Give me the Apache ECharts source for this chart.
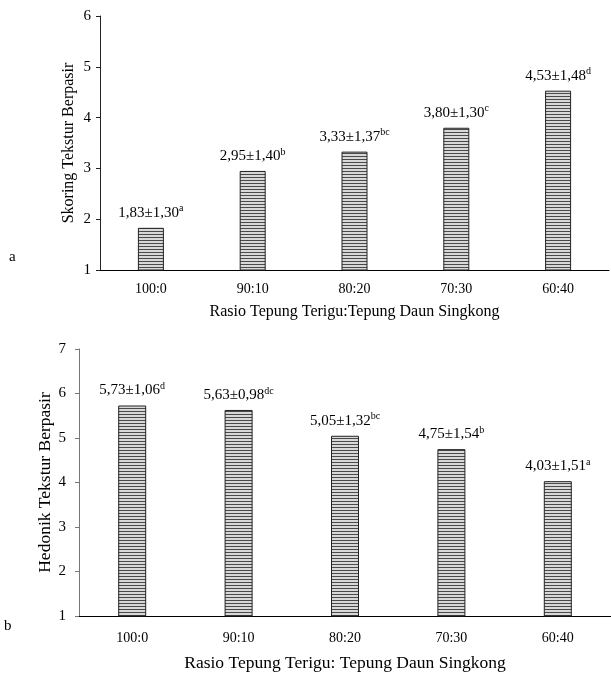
<!DOCTYPE html>
<html><head><meta charset="utf-8">
<script src="https://cdn.jsdelivr.net/npm/echarts@6/dist/echarts.min.js"></script>
<style>html,body{margin:0;padding:0;background:#fff}#c{width:611px;height:673px}</style>
</head><body><div id="c"></div>
<script>
var categories = ['100:0','90:10','80:20','70:30','60:40'];
var skorValues = [1.83, 2.95, 3.33, 3.80, 4.53];
var skorSD = ['1,30','1,40','1,37','1,30','1,48'];
var skorLetters = ['a','b','bc','c','d'];
var hedValues = [5.73, 5.63, 5.05, 4.75, 4.03];
var hedSD = ['1,06','0,98','1,32','1,54','1,51'];
var hedLetters = ['d','dc','bc','b','a'];

var FONT = '"Liberation Serif","Times New Roman",serif';
var pc = document.createElement('canvas');
pc.width = 4; pc.height = 3;
var g = pc.getContext('2d');
g.fillStyle = '#d8d8d8'; g.fillRect(0,0,4,3);
g.fillStyle = '#4a4a4a'; g.fillRect(0,0,4,1);
var pattern = {image: pc, repeat: 'repeat'};

function fmt(v){ return v.toFixed(2).replace('.', ','); }
function labelFor(sd, letters){
  return function(p){ return '{v|' + fmt(p.value) + '±' + sd[p.dataIndex] + '}{s|' + letters[p.dataIndex] + '}'; };
}
var rich = {
  v: {fontFamily: FONT, fontSize: 15, color: '#000', lineHeight: 18},
  s: {fontFamily: FONT, fontSize: 10, color: '#000', verticalAlign: 'top', lineHeight: 18, padding:[0,0,9,0]}
};
var catLabelStyle = {fontFamily: FONT, fontSize: 14, color: '#000'};
var yLabelStyle = {fontFamily: FONT, fontSize: 15, color: '#000'};
var nameStyle = {fontFamily: FONT, fontSize: 16, color: '#000'};
var nameStyleB = {fontFamily: FONT, fontSize: 17.5, color: '#000'};

var chart = echarts.init(document.getElementById('c'));
chart.setOption({
  animation: false,
  grid: [
    {left: 100, top: 16, width: 509, height: 254},
    {left: 79, top: 349, width: 539, height: 270}
  ],
  xAxis: [
    {gridIndex: 0, type: 'category', data: categories, axisTick: {show: false},
     axisLine: {lineStyle: {color: '#000', width: 1}}, axisLabel: Object.assign({margin: 12}, catLabelStyle),
     name: 'Rasio Tepung Terigu:Tepung Daun Singkong', nameLocation: 'middle', nameGap: 34, nameMoveOverlap: false, nameTextStyle: nameStyle},
    {gridIndex: 1, type: 'category', data: categories, axisTick: {show: false},
     axisLine: {lineStyle: {color: '#000', width: 1}}, axisLabel: Object.assign({margin: 15}, catLabelStyle),
     name: 'Rasio Tepung Terigu: Tepung Daun Singkong', nameLocation: 'middle', nameGap: 38, nameMoveOverlap: false, nameTextStyle: nameStyleB}
  ],
  yAxis: [
    {gridIndex: 0, type: 'value', min: 1, max: 6, interval: 1, splitLine: {show: false},
     axisLine: {show: true, lineStyle: {color: '#222'}}, axisTick: {show: true, length: 4, lineStyle: {color: '#222'}},
     axisLabel: Object.assign({margin: 9}, yLabelStyle),
     name: 'Skoring Tekstur Berpasir', nameLocation: 'middle', nameGap: 23, nameMoveOverlap: false, nameTextStyle: nameStyle},
    {gridIndex: 1, type: 'value', min: 1, max: 7, interval: 1, splitLine: {show: false},
     axisLine: {show: true, lineStyle: {color: '#777'}}, axisTick: {show: true, length: 4, lineStyle: {color: '#777'}},
     axisLabel: Object.assign({margin: 13}, yLabelStyle),
     name: 'Hedonik Tekstur Berpasir', nameLocation: 'middle', nameGap: 25, nameMoveOverlap: false, nameTextStyle: nameStyleB}
  ],
  series: [
    {type: 'bar', xAxisIndex: 0, yAxisIndex: 0, data: skorValues, barWidth: 26,
     itemStyle: {color: pattern, borderColor: '#222', borderWidth: 1},
     label: {show: true, position: 'top', distance: 6, formatter: labelFor(skorSD, skorLetters), rich: rich}},
    {type: 'bar', xAxisIndex: 1, yAxisIndex: 1, data: hedValues, barWidth: 28,
     itemStyle: {color: pattern, borderColor: '#222', borderWidth: 1},
     label: {show: true, position: 'top', distance: 6, formatter: labelFor(hedSD, hedLetters), rich: rich}}
  ],
  graphic: [
    {type: 'text', left: 9, top: 250, style: {text: 'a', font: '15px ' + FONT, fill: '#000'}},
    {type: 'text', left: 4, top: 619, style: {text: 'b', font: '15px ' + FONT, fill: '#000'}}
  ]
});
</script></body></html>
